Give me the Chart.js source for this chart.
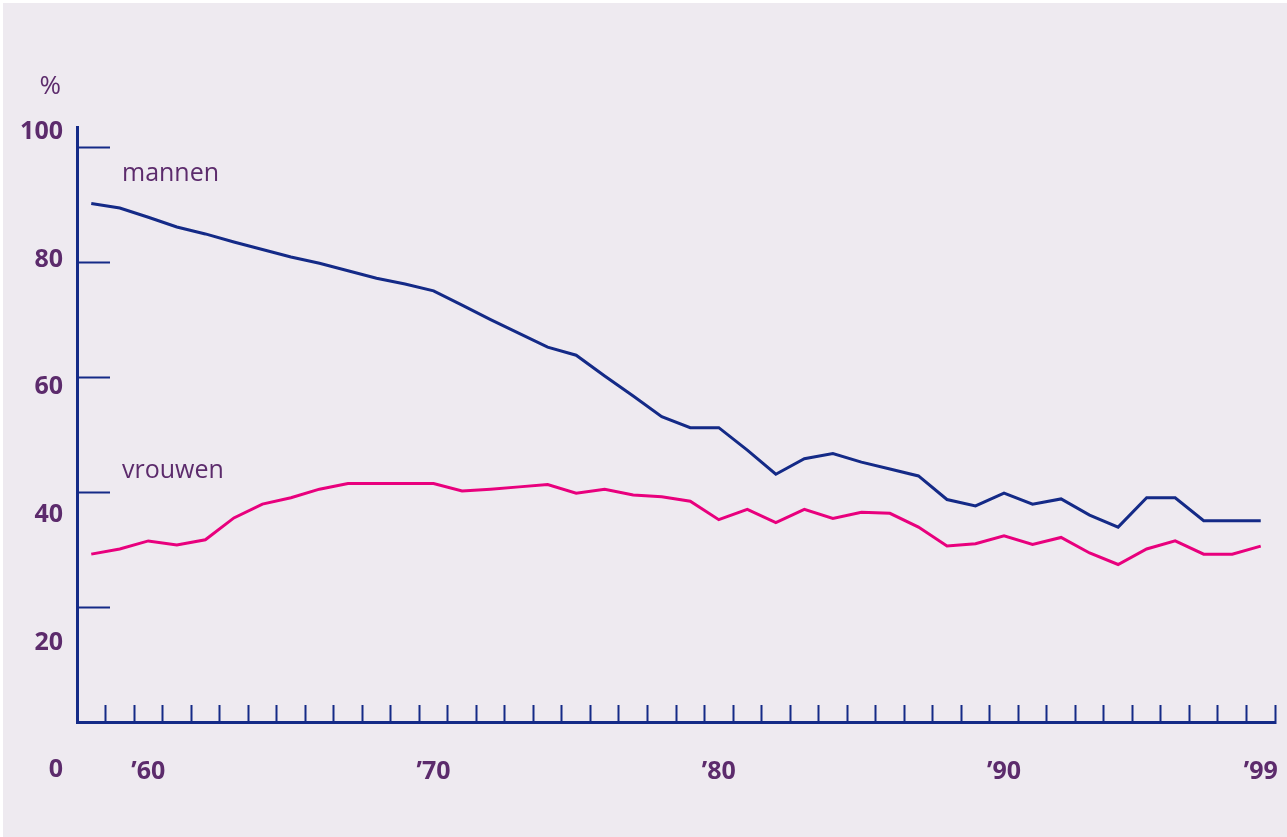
<!DOCTYPE html>
<html lang="nl">
<head>
<meta charset="utf-8">
<title>Mannen en vrouwen, 1958-1999</title>
<script src="https://cdn.jsdelivr.net/npm/chart.js@4.4.1/dist/chart.umd.min.js"></script>
<style>
	html, body { margin: 0; padding: 0; background: #ffffff; }
	#frame { position: absolute; left: 3px; top: 3px; width: 1284px; height: 834px; background: #eeeaf0; }
	#chart { display: block; }
</style>
</head>
<body>
<div id="frame"><canvas id="chart" width="1284" height="834"></canvas></div>
<script>
// Jaren (categorieën), 1958 t/m 1999
const years = [
	1958, 1959, 1960, 1961, 1962, 1963, 1964, 1965, 1966, 1967,
	1968, 1969, 1970, 1971, 1972, 1973, 1974, 1975, 1976, 1977,
	1978, 1979, 1980, 1981, 1982, 1983, 1984, 1985, 1986, 1987,
	1988, 1989, 1990, 1991, 1992, 1993, 1994, 1995, 1996, 1997,
	1998, 1999,
];

// Percentages
const mannen = [
	90.2, 89.4, 87.8, 86.1, 84.9, 83.5, 82.2, 80.9, 79.8, 78.5,
	77.2, 76.2, 75.0, 72.5, 70.0, 67.6, 65.2, 63.8, 60.2, 56.7,
	53.1, 51.2, 51.2, 47.3, 43.1, 45.8, 46.7, 45.2, 44.0, 42.8,
	38.7, 37.6, 39.8, 37.9, 38.8, 36.0, 33.9, 39.0, 39.0, 35.0,
	35.0, 35.0,
];
const vrouwen = [
	29.2, 30.1, 31.5, 30.8, 31.7, 35.5, 37.9, 39.0, 40.5, 41.5,
	41.5, 41.5, 41.5, 40.2, 40.5, 40.9, 41.3, 39.8, 40.5, 39.5,
	39.2, 38.4, 35.2, 37.0, 34.7, 37.0, 35.4, 36.5, 36.3, 33.9,
	30.6, 31.0, 32.4, 30.9, 32.1, 29.4, 27.4, 30.1, 31.5, 29.2,
	29.2, 30.6,
];

// As-labels
const labelYears = [1960, 1970, 1980, 1990, 1999];
const labelTexts = ["’60", "’70", "’80", "’90", "’99"];
const yTicks = [0, 20, 40, 60, 80, 100];

const NAVY = "#142a87";
const MAGENTA = "#e8007d";
const PURPLE = "#5c2b6c";
const FONT = "'Open Sans', 'DejaVu Sans', sans-serif";

/**
 * Tekent de y-labels (verschoven t.o.v. de streepjes, zoals in het origineel),
 * het %-teken en de reeksnamen.
 */
const textPlugin = {
	id: "textPlugin",
	afterDraw(chart) {
		const { ctx, chartArea } = chart;
		const y = chart.scales.y;
		ctx.save();
		ctx.fillStyle = PURPLE;
		ctx.textAlign = "right";
		ctx.textBaseline = "middle";
		ctx.font = "bold 25px " + FONT;
		yTicks.forEach((v) => {
			const py = chartArea.bottom + 48 + (y.getPixelForValue(v) - chartArea.bottom) * 1.11;
			ctx.fillText(String(v), chartArea.left - 14, py);
		});
		ctx.font = "26px " + FONT;
		ctx.fillText("%", chartArea.left - 16, 84);

		// reeksnamen
		ctx.textAlign = "left";
		ctx.textBaseline = "alphabetic";
		ctx.font = "25px " + FONT;
		ctx.fillText("mannen", 119, 178);
		ctx.fillText("vrouwen", 119, 475);
		ctx.restore();
	},
};

const ctx = document.getElementById("chart").getContext("2d");
new Chart(ctx, {
	type: "line",
	data: {
		labels: years,
		datasets: [
			{
				label: "mannen",
				data: mannen,
				borderColor: NAVY,
				borderWidth: 3,
				pointRadius: 0,
				tension: 0,
			},
			{
				label: "vrouwen",
				data: vrouwen,
				borderColor: MAGENTA,
				borderWidth: 3,
				pointRadius: 0,
				tension: 0,
			},
		],
	},
	options: {
		responsive: false,
		animation: false,
		layout: {
			padding: { top: 124, right: 12, bottom: 0, left: 0 },
		},
		plugins: {
			legend: { display: false },
			tooltip: { enabled: false },
		},
		scales: {
			x: {
				type: "category",
				offset: true,
				grid: {
					offset: true,
					drawOnChartArea: false,
					drawTicks: true,
					tickLength: -17, // streepjes naar binnen
					tickWidth: 2,
					tickColor: NAVY,
				},
				border: { display: true, color: NAVY, width: 3 },
				ticks: {
					autoSkip: false,
					maxRotation: 0,
					padding: 52,
					color: PURPLE,
					font: { family: FONT, size: 25, weight: "bold" },
					callback: (value, index) => {
						const i = labelYears.indexOf(years[index]);
						return i >= 0 ? labelTexts[i] : "";
					},
				},
				afterFit: (scale) => {
					scale.height = 115;
					// geen extra zijmarge door de grote label-padding
					scale.paddingLeft = 0;
					scale.paddingRight = 0;
				},
			},
			y: {
				min: 0,
				max: 103.5,
				afterBuildTicks: (scale) => {
					scale.ticks = yTicks.map((v) => ({ value: v }));
				},
				grid: {
					drawOnChartArea: false,
					drawTicks: true,
					tickLength: -33,
					tickWidth: 2,
					tickColor: NAVY,
				},
				border: { display: true, color: NAVY, width: 3 },
				ticks: { display: false },
				afterFit: (scale) => {
					scale.width = 74;
				},
			},
		},
	},
	plugins: [textPlugin],
});
</script>
</body>
</html>
